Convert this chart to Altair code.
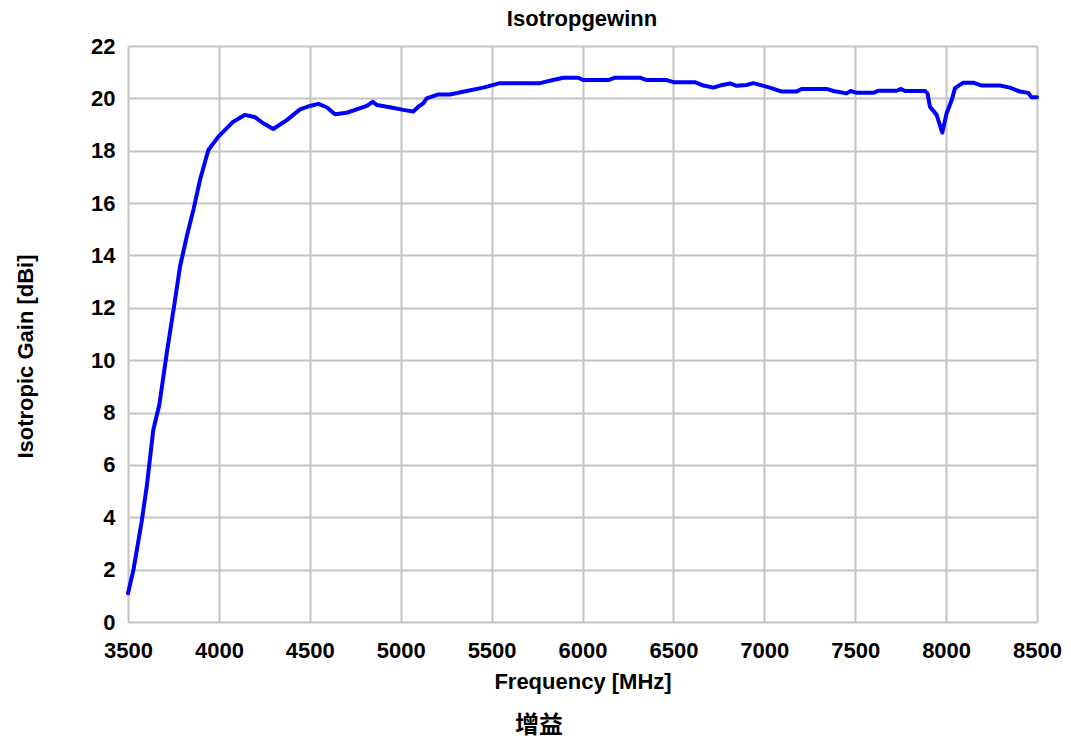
import altair as alt
import pandas as pd

freq_mhz = [3500, 3530, 3575, 3603, 3639, 3672, 3713, 3753, 3786, 3823, 3860, 3896,
            3942, 3997, 4079, 4144, 4199, 4244, 4299, 4373, 4446, 4501, 4547, 4593, 4639,
            4703, 4758, 4813, 4846, 4868, 4941, 5014, 5069, 5097, 5124, 5143, 5207, 5271,
            5363, 5454, 5546, 5766, 5839, 5894, 5977, 6004, 6142, 6179, 6316, 6353, 6463,
            6500, 6619, 6665, 6720, 6756, 6811, 6848, 6903, 6939, 7031, 7095, 7178, 7205,
            7343, 7380, 7453, 7475, 7508, 7600, 7627, 7728, 7752, 7774, 7884, 7898, 7911,
            7948, 7979, 8003, 8031, 8049, 8095, 8150, 8196, 8296, 8351, 8406, 8452, 8470,
            8500]
gain_dbi = [1.10, 1.99, 3.83, 5.17, 7.33, 8.29, 10.26, 12.04, 13.57, 14.72, 15.75, 16.88,
            18.03, 18.54, 19.11, 19.37, 19.28, 19.05, 18.83, 19.17, 19.58, 19.71, 19.79, 19.66, 19.39,
            19.45, 19.58, 19.71, 19.87, 19.75, 19.66, 19.56, 19.50, 19.68, 19.81, 20.00, 20.15, 20.15,
            20.28, 20.41, 20.58, 20.58, 20.70, 20.79, 20.79, 20.70, 20.70, 20.79, 20.79, 20.70, 20.70,
            20.62, 20.62, 20.49, 20.41, 20.49, 20.57, 20.48, 20.51, 20.58, 20.41, 20.26, 20.26, 20.36,
            20.36, 20.28, 20.19, 20.28, 20.21, 20.21, 20.29, 20.29, 20.36, 20.28, 20.28, 20.19, 19.68,
            19.37, 18.69, 19.43, 19.94, 20.39, 20.60, 20.60, 20.49, 20.49, 20.41, 20.26, 20.21, 20.04,
            20.04]

x_ticks = [3500, 4000, 4500, 5000, 5500, 6000, 6500, 7000, 7500, 8000, 8500]
y_ticks = [0, 2, 4, 6, 8, 10, 12, 14, 16, 18, 20, 22]
chart_title = ["Isotropgewinn"]
x_title = "Frequency [MHz]"
y_title = "Isotropic Gain [dBi]"
caption = ["增益"]

df = pd.DataFrame({"f": freq_mhz, "g": gain_dbi})
cap_df = pd.DataFrame({"t": caption})
title_df = pd.DataFrame({"t": chart_title})

FONT = "Liberation Sans"
common_axis = dict(
    labelFont=FONT, titleFont=FONT, labelFontWeight="bold", titleFontWeight="bold",
    labelColor="black", titleColor="black", grid=True, gridColor="#c4c4c4",
    gridWidth=2, domain=False, ticks=False, labelFlush=False,
    labelFontSize=22, titleFontSize=22,
)

line = alt.Chart(df).mark_line(
    color="#0000ff", strokeWidth=4, strokeCap="round", strokeJoin="round"
).encode(
    x=alt.X("f:Q",
            scale=alt.Scale(domain=[3500, 8500], nice=False, zero=False),
            axis=alt.Axis(values=x_ticks, format="d", title=x_title,
                          labelPadding=18, labelBaseline="top",
                          titleY=66, titleBaseline="alphabetic", **common_axis)),
    y=alt.Y("g:Q",
            scale=alt.Scale(domain=[0, 22], nice=False),
            axis=alt.Axis(values=y_ticks, title=y_title,
                          labelPadding=13, labelBaseline="middle",
                          titleAngle=-90, titleX=-96, titleY=310,
                          titleAlign="center", titleBaseline="alphabetic",
                          **common_axis)),
)

top_title = alt.Chart(title_df).mark_text(
    font=FONT, fontSize=22, fontWeight="bold", color="black",
    baseline="alphabetic", align="center"
).encode(
    text="t:N",
    x=alt.value(454),
    y=alt.value(-20),
)

cap = alt.Chart(cap_df).mark_text(
    font="Noto Sans CJK SC", fontSize=24, fontWeight="bold", color="black",
    baseline="middle", align="center"
).encode(
    text="t:N",
    x=alt.value(411),
    y=alt.value(680),
)

chart = alt.layer(line, top_title, cap).properties(
    width=909, height=576,
    autosize=alt.AutoSizeParams(type="none"),
    padding={"left": 120, "top": 38, "right": 26, "bottom": 119},
).configure_view(
    stroke="black", strokeWidth=2
).configure(background="white")

chart.save("out.html", embed_options={"renderer": "svg", "actions": False})
